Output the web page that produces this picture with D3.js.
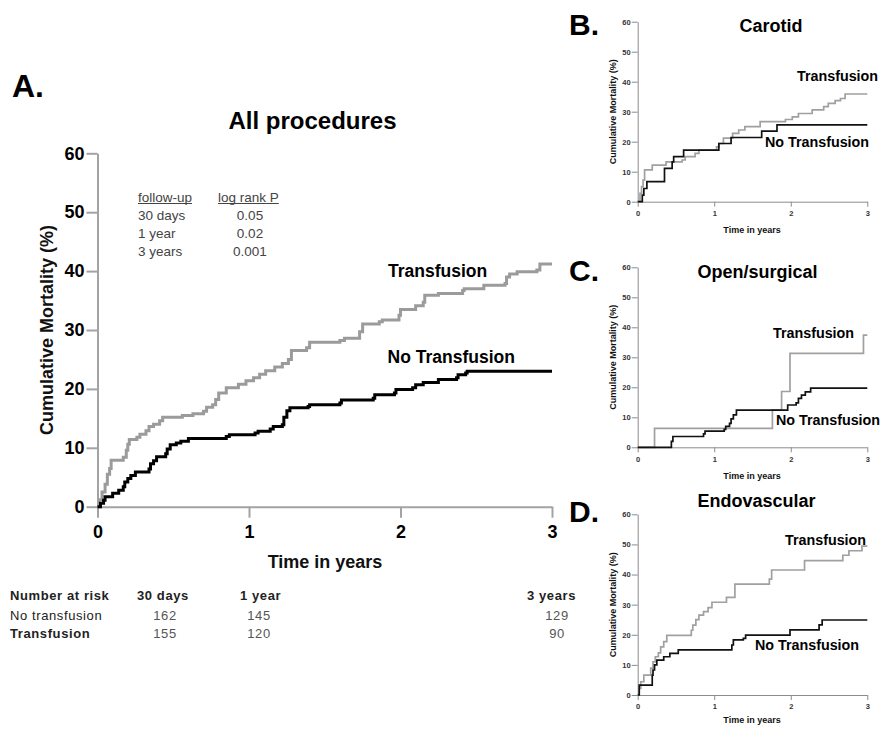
<!DOCTYPE html>
<html><head><meta charset="utf-8">
<script src="https://cdn.jsdelivr.net/npm/d3@7/dist/d3.min.js"></script>
<style>
body{margin:0;background:#fff}
svg{display:block}
text{font-family:"Liberation Sans",Arial,Helvetica,sans-serif}
</style>
</head><body>
<svg id="chart" width="882" height="729"></svg>
<script>
// ---------- data ----------
const xTicks = [0, 1, 2, 3];
const yTicks = [0, 10, 20, 30, 40, 50, 60];

// Panel A: All procedures  [time in years, cumulative mortality %]
const allTransfusion = [[0,0],[0.01,1.2],[0.03,2.5],[0.05,3.8],[0.065,5.5],[0.08,6.5],[0.09,7.9],[0.17,8.4],[0.19,9.6],[0.20,10.6],[0.21,11.4],[0.26,11.8],[0.28,12.3],[0.32,12.9],[0.34,13.6],[0.37,14.0],[0.41,14.6],[0.43,15.2],[0.56,15.5],[0.63,15.8],[0.70,16.2],[0.72,16.9],[0.76,17.3],[0.78,18.2],[0.80,19.3],[0.85,20.2],[0.93,20.8],[0.98,21.4],[1.03,21.9],[1.07,22.5],[1.11,23.1],[1.17,23.7],[1.22,24.3],[1.26,25.0],[1.28,26.5],[1.38,27.0],[1.40,27.9],[1.60,28.2],[1.63,28.6],[1.73,29.7],[1.75,31.0],[1.86,31.4],[1.88,31.7],[1.99,32.5],[2.00,33.5],[2.10,34.1],[2.15,34.7],[2.16,35.9],[2.25,36.2],[2.41,36.7],[2.42,37.0],[2.55,37.6],[2.69,37.9],[2.70,39.0],[2.72,39.5],[2.77,39.9],[2.90,40.2],[2.92,41.2],[3.0,41.2]];
const allNoTransfusion = [[0,0],[0.02,0.6],[0.04,1.1],[0.05,1.7],[0.10,2.3],[0.14,2.8],[0.17,3.4],[0.18,4.2],[0.20,4.8],[0.22,5.3],[0.25,5.9],[0.34,6.4],[0.35,7.3],[0.37,7.8],[0.39,8.5],[0.45,9.0],[0.46,9.8],[0.48,10.5],[0.52,10.8],[0.55,11.1],[0.60,11.6],[0.85,11.9],[0.87,12.2],[1.04,12.5],[1.06,12.8],[1.14,13.2],[1.16,13.6],[1.22,13.9],[1.23,15.2],[1.25,16.3],[1.27,16.8],[1.39,17.0],[1.40,17.3],[1.60,17.6],[1.61,18.1],[1.82,18.4],[1.83,19.0],[1.96,19.3],[1.97,19.9],[2.08,20.2],[2.10,20.7],[2.15,21.1],[2.25,21.6],[2.37,21.9],[2.38,22.4],[2.43,22.7],[2.44,23.0],[3.0,23.0]];

// Panel B: Carotid
const carotidTransfusion = [[0,0],[0.03,2.8],[0.05,5.0],[0.07,7.2],[0.09,10.6],[0.19,12.2],[0.37,13.3],[0.58,13.9],[0.62,15.0],[0.75,16.1],[0.80,17.2],[1.03,18.3],[1.06,19.4],[1.12,21.2],[1.24,22.8],[1.32,23.9],[1.40,25.0],[1.60,26.7],[1.93,27.4],[2.02,28.3],[2.10,29.4],[2.28,30.6],[2.43,31.7],[2.49,32.8],[2.58,33.7],[2.65,34.4],[2.71,35.9],[3.0,35.9]];
const carotidNoTransfusion = [[0,0],[0.06,2.2],[0.08,4.4],[0.12,6.7],[0.35,11.1],[0.45,13.3],[0.47,15.0],[0.60,17.2],[1.06,19.4],[1.22,21.4],[1.62,23.5],[1.82,25.6],[3.0,25.6]];

// Panel C: Open/surgical
const openTransfusion = [[0,0],[0.22,6.3],[1.76,12.4],[1.88,18.6],[1.99,31.3],[2.95,37.4],[3.0,37.4]];
const openNoTransfusion = [[0,0],[0.44,2.0],[0.46,3.6],[0.86,4.5],[0.88,5.4],[1.13,6.0],[1.15,7.0],[1.20,8.0],[1.22,9.5],[1.25,10.8],[1.29,12.4],[1.96,14.1],[2.07,14.8],[2.10,16.3],[2.14,17.4],[2.19,18.5],[2.26,19.7],[3.0,19.7]];

// Panel D: Endovascular
const endoTransfusion = [[0,0],[0.02,2.2],[0.04,4.4],[0.08,6.6],[0.17,8.9],[0.20,11.0],[0.23,12.7],[0.27,14.0],[0.30,16.0],[0.34,17.7],[0.38,19.8],[0.70,21.5],[0.72,23.2],[0.76,25.0],[0.80,26.5],[0.86,27.7],[0.92,29.0],[0.97,30.8],[1.16,32.4],[1.27,36.8],[1.72,38.5],[1.75,41.5],[2.18,44.6],[2.68,46.4],[2.76,47.9],[2.93,49.4],[3.0,49.4]];
const endoNoTransfusion = [[0,0],[0.02,3.3],[0.19,6.6],[0.20,8.3],[0.22,10.0],[0.25,11.6],[0.34,12.7],[0.42,13.8],[0.53,15.0],[1.23,16.6],[1.25,18.3],[1.38,18.8],[1.41,19.9],[1.99,21.6],[2.37,23.3],[2.41,24.9],[3.0,24.9]];

// Tables
const followUpLabels = ["30 days", "1 year", "3 years"];
const logRankP = ["0.05", "0.02", "0.001"];
const riskHeaders = ["30 days", "1 year", "3 years"];
const riskNoTransfusion = [162, 145, 129];
const riskTransfusion = [155, 120, 90];

// ---------- drawing ----------
const svg = d3.select("#chart");
svg.append("rect").attr("width", 882).attr("height", 729).attr("fill", "#fff");

function drawPanel(o) {
  const g = svg.append("g");
  const x = d3.scaleLinear().domain([0, 3]).range([o.x0, o.x1]);
  const y = d3.scaleLinear().domain([0, 60]).range([o.y0, o.y1]);

  const xa = g.append("g").attr("transform", `translate(0,${o.y0})`)
    .call(d3.axisBottom(x).tickValues(xTicks).tickFormat(d3.format("d"))
      .tickSize(o.xTick).tickSizeOuter(0).tickPadding(o.xPad));
  const ya = g.append("g").attr("transform", `translate(${o.x0},0)`)
    .call(d3.axisLeft(y).tickValues(yTicks).tickFormat(d3.format("d"))
      .tickSize(o.yTick).tickSizeOuter(0).tickPadding(o.yPad));
  [xa, ya].forEach(a => {
    a.select(".domain").attr("stroke", o.axisColor).attr("stroke-width", o.axisWidth);
    a.selectAll(".tick line").attr("stroke", o.axisColor).attr("stroke-width", o.axisWidth);
    a.selectAll(".tick text").attr("fill", o.tickColor).attr("font-size", o.tickFont)
      .attr("font-weight", "bold").attr("font-family", '"Liberation Sans",Arial,sans-serif');
  });

  const line = d3.line().x(d => x(d[0])).y(d => y(d[1])).curve(d3.curveStepAfter);
  g.append("path").datum(o.trans).attr("d", line).attr("fill", "none")
    .attr("stroke", o.greyColor).attr("stroke-width", o.lineWidth).attr("stroke-linejoin", "miter");
  g.append("path").datum(o.noTrans).attr("d", line).attr("fill", "none")
    .attr("stroke", o.blackColor).attr("stroke-width", o.lineWidth).attr("stroke-linejoin", "miter");

  // axis titles
  g.append("text").attr("x", o.xLabelX).attr("y", o.xLabelY).attr("text-anchor", "middle")
    .attr("font-size", o.labelFont).attr("font-weight", "bold").attr("fill", "#111").text("Time in years");
  g.append("text").attr("transform", `translate(${o.yLabelX},${(o.y0 + o.y1) / 2}) rotate(-90)`)
    .attr("text-anchor", "middle").attr("font-size", o.labelFont).attr("font-weight", "bold")
    .attr("fill", "#111").text("Cumulative Mortality (%)");

  // title and panel letter
  g.append("text").attr("x", o.titleX).attr("y", o.titleY).attr("text-anchor", "middle")
    .attr("font-size", o.titleFont).attr("font-weight", "bold").attr("fill", "#000").text(o.title);
  g.append("text").attr("x", o.letterX).attr("y", o.letterY)
    .attr("font-size", o.letterFont).attr("font-weight", "bold").attr("fill", "#000").text(o.letter);

  // series labels
  g.append("text").attr("x", o.tLab[0]).attr("y", o.tLab[1]).attr("font-size", o.seriesFont)
    .attr("font-weight", "bold").attr("fill", "#000").text("Transfusion");
  g.append("text").attr("x", o.nLab[0]).attr("y", o.nLab[1]).attr("font-size", o.seriesFont)
    .attr("font-weight", "bold").attr("fill", "#000").text("No Transfusion");
  return g;
}

// Panel A
drawPanel({
  x0: 97.5, x1: 552, y0: 506.7, y1: 153.3,
  xTick: 11, yTick: 11, xPad: 8, yPad: 2,
  axisColor: "#a3a3a3", axisWidth: 2, tickColor: "#000", tickFont: 18,
  greyColor: "#9b9b9b", blackColor: "#000", lineWidth: 3,
  trans: allTransfusion, noTrans: allNoTransfusion,
  xLabelX: 325, xLabelY: 568, yLabelX: 53, labelFont: 18,
  title: "All procedures", titleX: 312.5, titleY: 129, titleFont: 24,
  letter: "A.", letterX: 12, letterY: 97, letterFont: 32,
  tLab: [388, 277], nLab: [387.5, 363], seriesFont: 17.5
});

const small = {
  x0: 637.7, x1: 867.3,
  xTick: 5, yTick: 6, xPad: 4, yPad: 1,
  axisColor: "#8c8c8c", axisWidth: 1, tickColor: "#333", tickFont: 7.5,
  greyColor: "#a0a0a0", blackColor: "#111", lineWidth: 1.7,
  xLabelX: 752, yLabelX: 616, labelFont: 9,
  titleFont: 18, letterX: 569, letterFont: 30, seriesFont: 14.3
};

drawPanel(Object.assign({}, small, {
  y0: 201.7, y1: 21.7, trans: carotidTransfusion, noTrans: carotidNoTransfusion,
  xLabelY: 233, title: "Carotid", titleX: 771, titleY: 31.5,
  letter: "B.", letterY: 35, tLab: [797, 81], nLab: [765, 146.6]
}));
drawPanel(Object.assign({}, small, {
  y0: 447.3, y1: 267.3, trans: openTransfusion, noTrans: openNoTransfusion,
  xLabelY: 479, title: "Open/surgical", titleX: 757.5, titleY: 277.5,
  letter: "C.", letterY: 281, tLab: [773, 338.2], nLab: [776, 425]
}));
drawPanel(Object.assign({}, small, {
  y0: 695, y1: 514.3, trans: endoTransfusion, noTrans: endoNoTransfusion,
  xLabelY: 723, title: "Endovascular", titleX: 756.5, titleY: 506.5,
  letter: "D.", letterY: 522, tLab: [785, 545], nLab: [755, 650]
}));

// follow-up / log rank table
const ft = svg.append("g").attr("font-size", 13.5).attr("fill", "#444");
function underlined(x, y, txt) {
  const t = ft.append("text").attr("x", x).attr("y", y).text(txt);
  const w = t.node().getComputedTextLength();
  ft.append("line").attr("x1", x).attr("x2", x + w).attr("y1", y + 2).attr("y2", y + 2)
    .attr("stroke", "#444").attr("stroke-width", 1);
}
underlined(138, 201.5, "follow-up");
underlined(218, 201.5, "log rank P");
followUpLabels.forEach((d, i) => {
  ft.append("text").attr("x", 138).attr("y", 219.7 + i * 18.3).text(d);
  ft.append("text").attr("x", 250).attr("y", 219.7 + i * 18.3).attr("text-anchor", "middle").text(logRankP[i]);
});

// number at risk table
const rt = svg.append("g").attr("font-size", 13).attr("fill", "#222").attr("letter-spacing", 0.6);
const headX = [137, 240, 527];
const valX = [165, 259, 557];
rt.append("text").attr("x", 10).attr("y", 599.5).attr("font-weight", "bold").text("Number at risk");
riskHeaders.forEach((d, i) => rt.append("text").attr("x", headX[i]).attr("y", 599.5).attr("font-weight", "bold").text(d));
rt.append("text").attr("x", 10).attr("y", 619.5).text("No transfusion");
rt.append("text").attr("x", 10).attr("y", 638).attr("font-weight", "bold").text("Transfusion");
riskNoTransfusion.forEach((d, i) => rt.append("text").attr("x", valX[i]).attr("y", 619.5).attr("text-anchor", "middle").attr("fill", "#555").text(d));
riskTransfusion.forEach((d, i) => rt.append("text").attr("x", valX[i]).attr("y", 638).attr("text-anchor", "middle").attr("fill", "#555").text(d));
</script>
</body></html>
